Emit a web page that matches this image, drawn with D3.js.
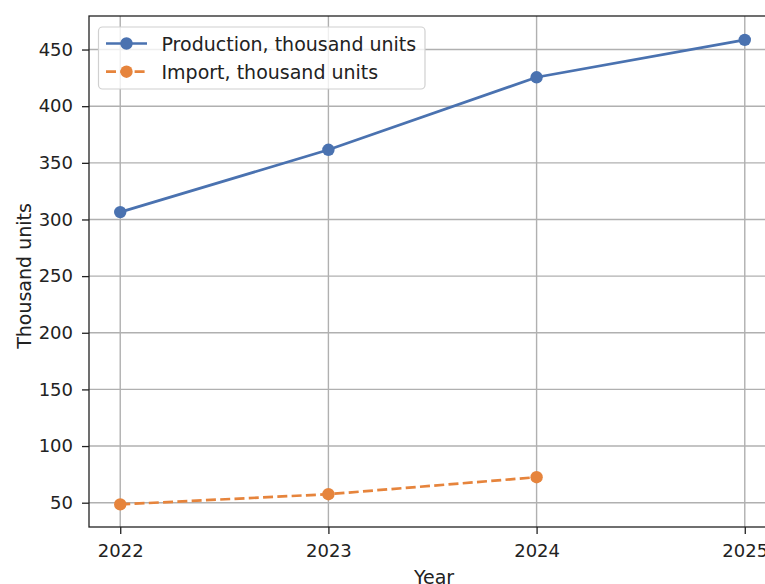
<!DOCTYPE html>
<html>
<head>
<meta charset="utf-8">
<script src="https://cdn.jsdelivr.net/npm/d3@7"></script>
<style>
  html, body { margin: 0; padding: 0; background: #fff; overflow: hidden; }
  svg { display: block; font-family: "DejaVu Sans", sans-serif; }
</style>
</head>
<body>
<svg id="chart" width="765" height="584"></svg>
<script>
const years = [2022, 2023, 2024, 2025];
const production = [306.5, 361.5, 425.5, 458.5];
const importYears = [2022, 2023, 2024];
const imports = [48.5, 57.5, 72.5];
const yTicks = [50, 100, 150, 200, 250, 300, 350, 400, 450];
const xTicks = [2022, 2023, 2024, 2025];
const seriesNames = ["Production, thousand units", "Import, thousand units"];
const seriesColors = ["#4a72b0", "#e6843c"];
const xLabel = "Year";
const yLabel = "Thousand units";

const svg = d3.select("#chart");
const m = { left: 89, right: 776, top: 16, bottom: 527 };
const fs = 18;
const lfs = 19;

const x = d3.scaleLinear().domain([2021.85, 2025.15]).range([m.left, m.right]);
const y = d3.scaleLinear().domain([28.55, 479.6]).range([m.bottom, m.top]);

// grid
const grid = svg.append("g");
grid.selectAll("line.gx").data(xTicks).join("line")
  .attr("x1", d => x(d)).attr("x2", d => x(d))
  .attr("y1", m.top).attr("y2", m.bottom)
  .attr("stroke", "#b0b0b0").attr("stroke-width", 1.4);
grid.selectAll("line.gy").data(yTicks).join("line")
  .attr("x1", m.left).attr("x2", m.right)
  .attr("y1", d => y(d)).attr("y2", d => y(d))
  .attr("stroke", "#b0b0b0").attr("stroke-width", 1.4);

// axes
const xAxis = d3.axisBottom(x).tickValues(xTicks).tickFormat(d3.format("d")).tickSize(7).tickPadding(6);
const yAxis = d3.axisLeft(y).tickValues(yTicks).tickSize(7).tickPadding(9);

const gx = svg.append("g").attr("transform", `translate(0,${m.bottom})`).call(xAxis);
const gy = svg.append("g").attr("transform", `translate(${m.left},0)`).call(yAxis);
[gx, gy].forEach(g => {
  g.select(".domain").remove();
  g.selectAll(".tick line").attr("stroke", "#222").attr("stroke-width", 1.3);
  g.selectAll(".tick text").attr("font-size", fs).attr("fill", "#222")
    .attr("font-family", "DejaVu Sans, sans-serif");
});
gx.selectAll(".tick text").attr("dy", "0.95em");

// lines
const lineGen = d3.line().x(d => x(d[0])).y(d => y(d[1]));
const prodData = years.map((yr, i) => [yr, production[i]]);
const impData = importYears.map((yr, i) => [yr, imports[i]]);

svg.append("path").datum(prodData).attr("d", lineGen)
  .attr("fill", "none").attr("stroke", seriesColors[0]).attr("stroke-width", 2.7);
svg.append("path").datum(impData).attr("d", lineGen)
  .attr("fill", "none").attr("stroke", seriesColors[1]).attr("stroke-width", 2.7)
  .attr("stroke-dasharray", "10,4.3");

svg.selectAll("circle.p").data(prodData).join("circle")
  .attr("cx", d => x(d[0])).attr("cy", d => y(d[1])).attr("r", 6.2)
  .attr("fill", seriesColors[0]);
svg.selectAll("circle.i").data(impData).join("circle")
  .attr("cx", d => x(d[0])).attr("cy", d => y(d[1])).attr("r", 6.2)
  .attr("fill", seriesColors[1]);

// spines
svg.append("rect").attr("x", m.left).attr("y", m.top)
  .attr("width", m.right - m.left).attr("height", m.bottom - m.top)
  .attr("fill", "none").attr("stroke", "#222").attr("stroke-width", 1.3);

// labels
svg.append("text").attr("x", 434).attr("y", 584)
  .attr("text-anchor", "middle").attr("font-size", lfs).attr("fill", "#222").text(xLabel);
svg.append("text").attr("transform", `translate(30.5,276) rotate(-90)`)
  .attr("text-anchor", "middle").attr("font-size", lfs).attr("fill", "#222").text(yLabel);

// legend
const lg = svg.append("g");
lg.append("rect").attr("x", 98.5).attr("y", 27).attr("width", 326.5).attr("height", 62)
  .attr("rx", 4).attr("fill", "#fff").attr("fill-opacity", 0.8)
  .attr("stroke", "#d0d0d0").attr("stroke-width", 1.2);
seriesNames.forEach((name, i) => {
  const cy = 43.5 + i * 28.2;
  lg.append("line").attr("x1", 106).attr("x2", 147).attr("y1", cy).attr("y2", cy)
    .attr("stroke", seriesColors[i]).attr("stroke-width", 2.7)
    .attr("stroke-dasharray", i === 1 ? "10,4.3" : null);
  lg.append("circle").attr("cx", 126.5).attr("cy", cy).attr("r", 6.2).attr("fill", seriesColors[i]);
  lg.append("text").attr("x", 161.5).attr("y", cy + 7).attr("font-size", lfs)
    .attr("fill", "#222").text(name);
});
</script>
</body>
</html>
